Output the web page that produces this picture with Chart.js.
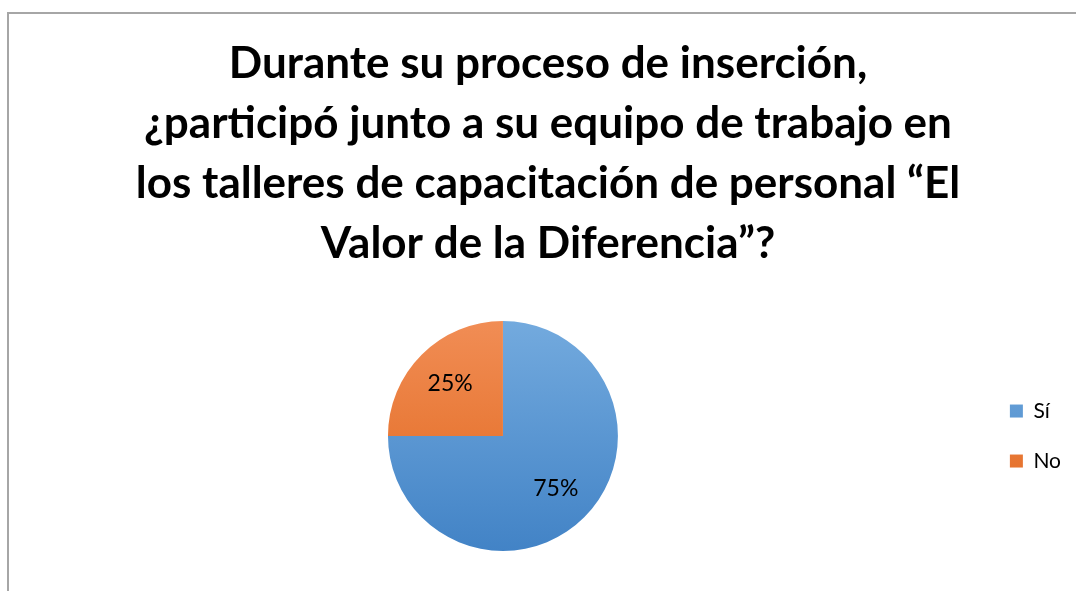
<!DOCTYPE html>
<html lang="es">

<head>
    <meta charset="UTF-8">
    <title>Valor de la Diferencia</title>
    <script src="https://cdn.jsdelivr.net/npm/chart.js"></script>
    <style>
        html, body { margin: 0; padding: 0; background: #fff; overflow: hidden; }
        #marco {
            position: absolute; left: 7px; top: 12px; width: 1100px; height: 620px;
            border-left: 2px solid #a6a6a6; border-top: 2px solid #a6a6a6;
        }
        #caja { position: absolute; left: 0; top: 0; width: 1076px; height: 591px; }
    </style>
</head>

<body>
    <div id="marco"></div>
    <div id="caja">
        <canvas id="grafico"></canvas>
    </div>
</body>

</html>

<script>
    var categorias = ['Sí', 'No'];
    var porcentajes = [75, 25];
    var titulo = [
        'Durante su proceso de inserción,',
        '¿participó junto a su equipo de trabajo en',
        'los talleres de capacitación de personal “El',
        'Valor de la Diferencia”?'
    ];

    var coloresArriba = ['#73aade', '#f18d55'];
    var coloresAbajo = ['#4283c6', '#e0661b'];

    function degradado(context) {
        var chart = context.chart;
        var area = chart.chartArea;
        if (!area) return coloresAbajo[context.dataIndex];
        var cy = (area.top + area.bottom) / 2;
        var r = Math.min(area.right - area.left, area.bottom - area.top) / 2;
        if (!isFinite(cy) || !isFinite(r) || r <= 0) return coloresAbajo[context.dataIndex];
        var g = chart.ctx.createLinearGradient(0, cy - r, 0, cy + r);
        g.addColorStop(0, coloresArriba[context.dataIndex]);
        g.addColorStop(1, coloresAbajo[context.dataIndex]);
        return g;
    }

    // etiquetas de porcentaje dentro de cada sector
    var etiquetas = {
        id: 'etiquetas',
        afterDatasetsDraw: function (chart) {
            var ctx = chart.ctx;
            var meta = chart.getDatasetMeta(0);
            ctx.save();
            ctx.font = '23px Lato';
            ctx.fillStyle = '#000';
            ctx.textAlign = 'center';
            ctx.textBaseline = 'middle';
            meta.data.forEach(function (arco, i) {
                var medio = (arco.startAngle + arco.endAngle) / 2;
                var d = arco.outerRadius * 0.65;
                ctx.fillText(porcentajes[i] + '%', arco.x + Math.cos(medio) * d, arco.y + Math.sin(medio) * d);
            });
            ctx.restore();
        }
    };

    var ctx = grafico.getContext('2d');
    var myChart = new Chart(ctx, {
        type: 'pie',
        data: {
            labels: categorias,
            datasets: [{
                data: porcentajes,
                backgroundColor: degradado,
                borderWidth: 0
            }]
        },
        options: {
            responsive: true,
            maintainAspectRatio: false,
            animation: false,
            layout: { padding: { left: 25, right: 5, bottom: 40 } },
            plugins: {
                title: {
                    display: true,
                    text: titulo,
                    color: '#000',
                    font: { family: 'Lato', size: 44, weight: 'bold', lineHeight: 1.364 },
                    padding: { top: 34, bottom: 47 }
                },
                legend: {
                    position: 'right',
                    fullSize: false,
                    labels: {
                        color: '#000',
                        font: { family: 'Lato', size: 21 },
                        boxWidth: 13,
                        boxHeight: 13,
                        padding: 29
                    }
                },
                tooltip: { enabled: false }
            }
        },
        plugins: [etiquetas]
    });
</script>
